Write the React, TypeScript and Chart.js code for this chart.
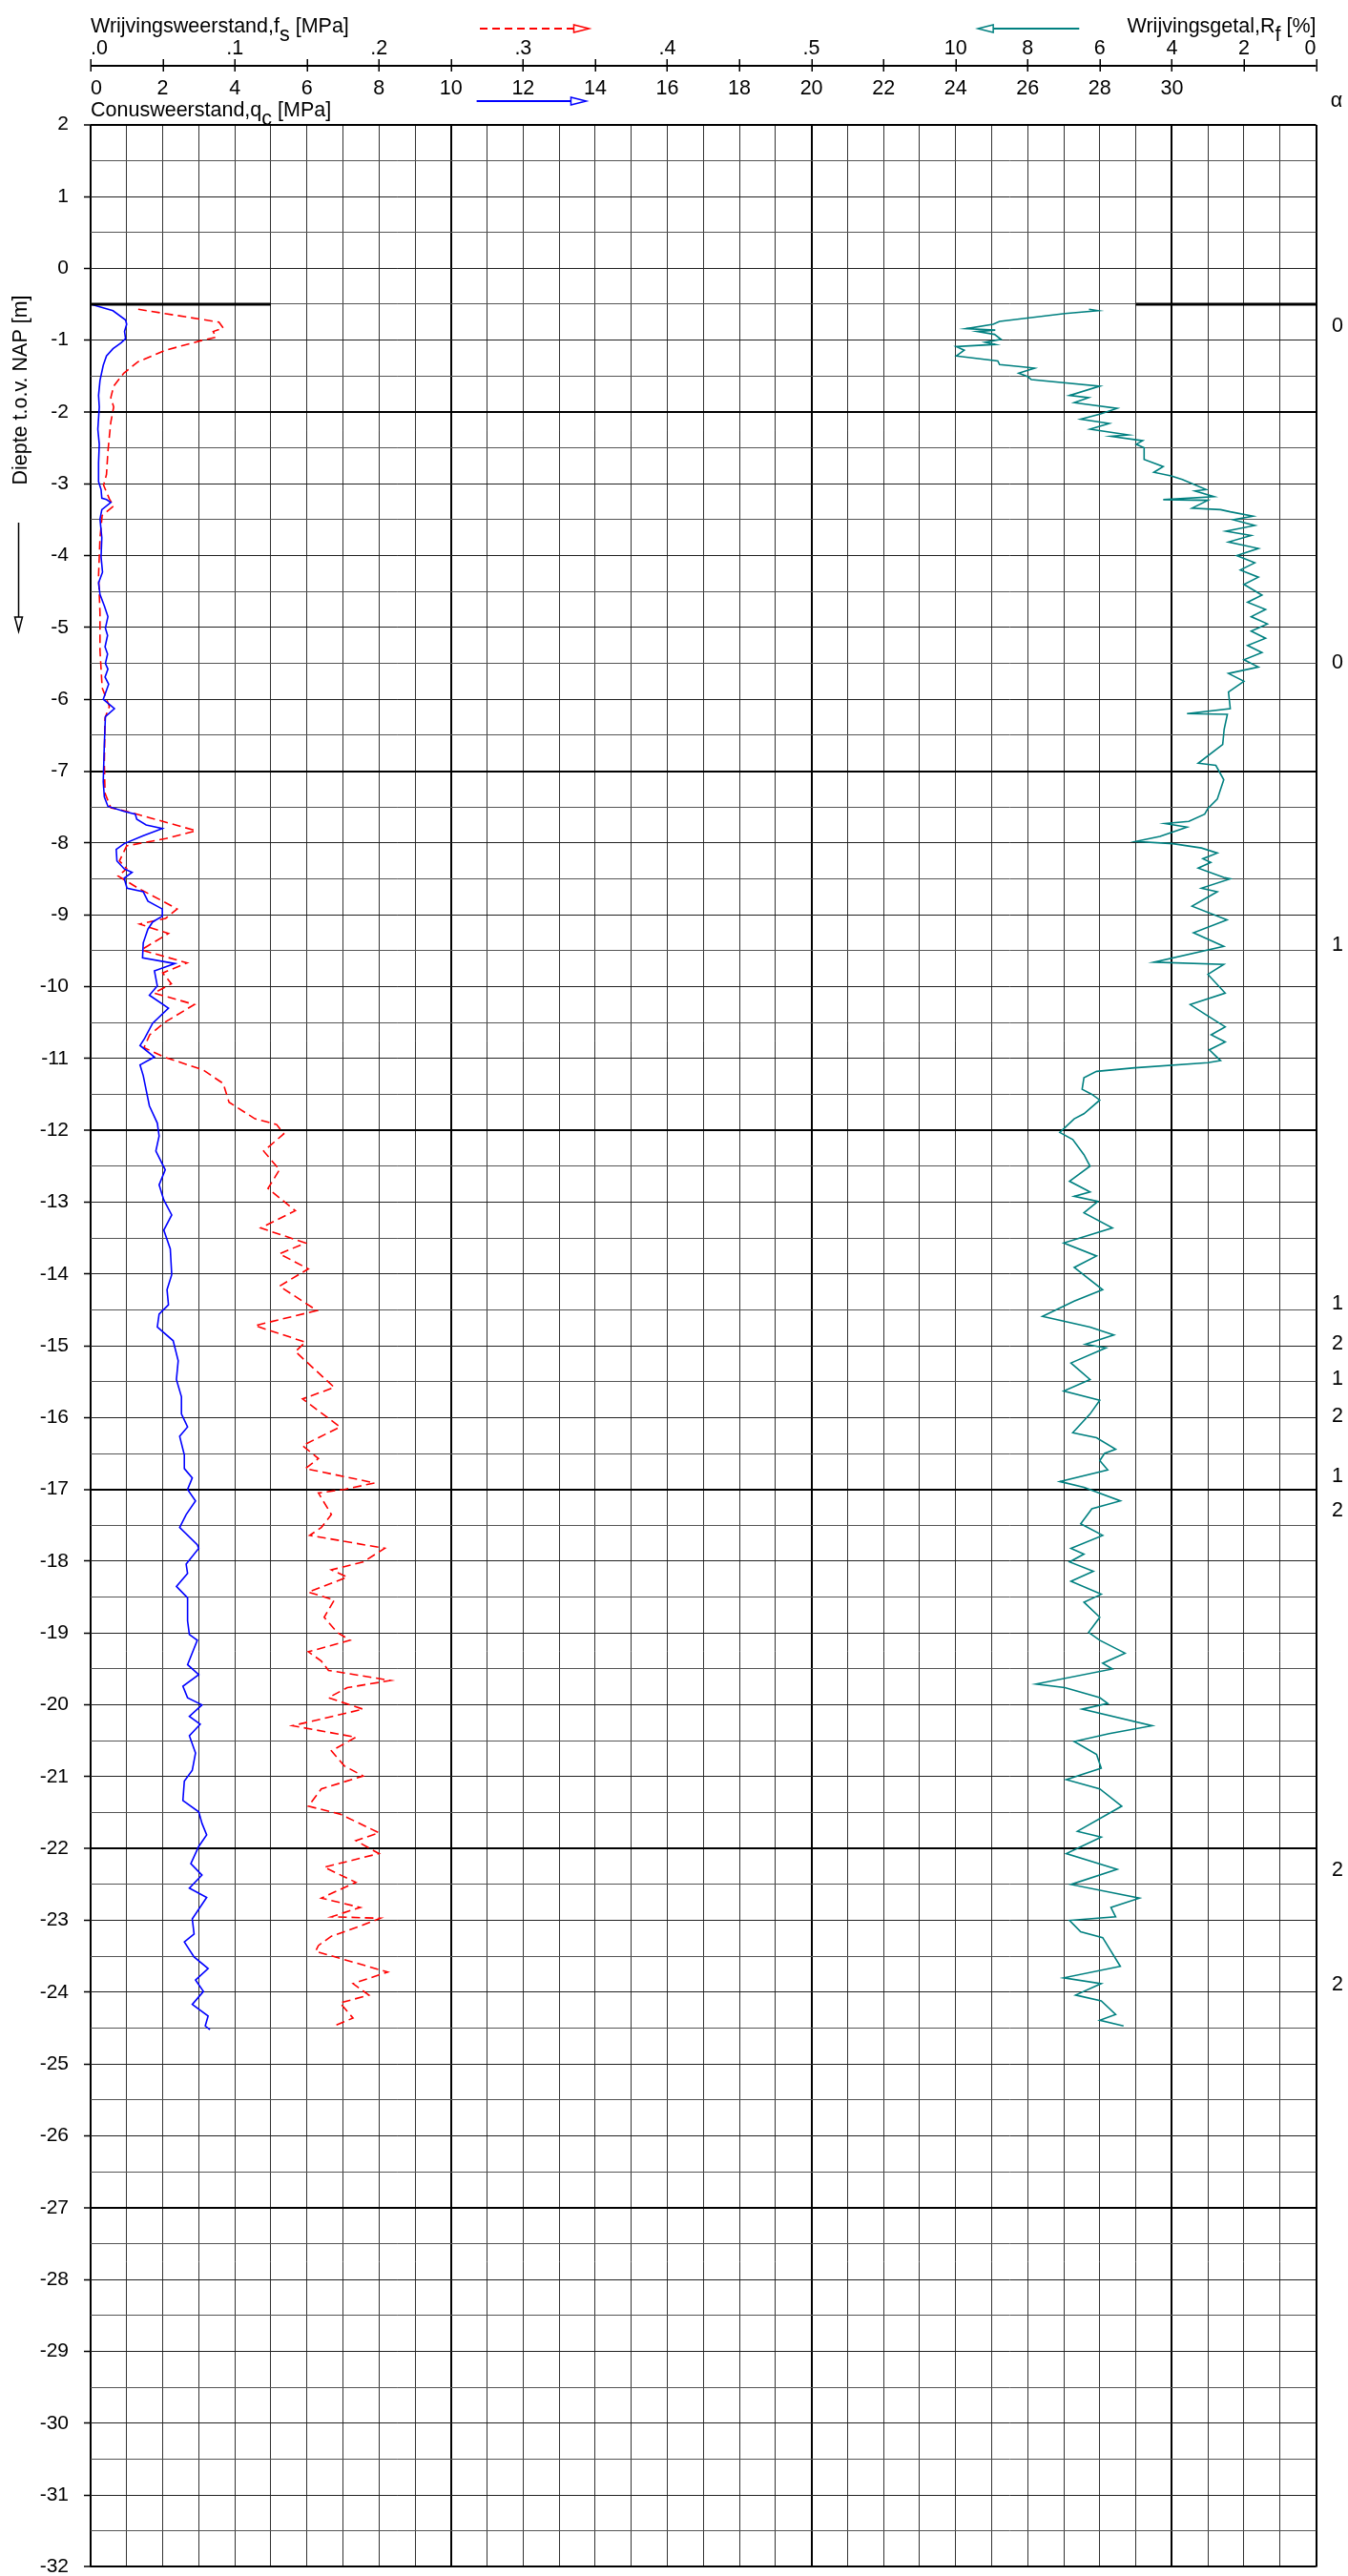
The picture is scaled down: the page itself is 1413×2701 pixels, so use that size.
import React, { useEffect, useRef } from 'react';
import { Chart, registerables } from 'chart.js';

Chart.register(...registerables);

const FONT = '"Liberation Sans", Arimo, Arial, sans-serif';

const groundLevel = -0.5;

const qcDepth = [-0.5, -0.59, -0.72, -0.78, -0.88, -0.98, -1.04, -1.12, -1.22, -1.35, -1.56, -1.77, -1.93, -2.24, -2.45, -2.71, -2.97, -3.08, -3.2, -3.22, -3.26, -3.36, -3.49, -3.75, -4.02, -4.23, -4.38, -4.54, -4.7, -4.85, -5.01, -5.11, -5.27, -5.37, -5.5, -5.58, -5.69, -5.79, -6.0, -6.13, -6.24, -6.63, -7.15, -7.36, -7.49, -7.56, -7.6, -7.67, -7.75, -7.8, -7.9, -8.01, -8.09, -8.25, -8.36, -8.41, -8.49, -8.63, -8.68, -8.81, -8.92, -9.02, -9.1, -9.2, -9.39, -9.6, -9.68, -9.78, -9.99, -10.12, -10.3, -10.51, -10.72, -10.82, -10.98, -11.09, -11.24, -11.66, -11.9, -12.08, -12.29, -12.55, -12.76, -12.97, -13.18, -13.39, -13.65, -14.01, -14.22, -14.43, -14.56, -14.74, -14.93, -15.21, -15.47, -15.71, -15.95, -16.13, -16.26, -16.52, -16.71, -16.84, -17.0, -17.16, -17.35, -17.53, -17.77, -17.82, -18.04, -18.17, -18.35, -18.51, -18.83, -19.02, -19.1, -19.44, -19.58, -19.74, -19.9, -20.0, -20.16, -20.27, -20.43, -20.67, -20.91, -21.06, -21.33, -21.49, -21.65, -21.81, -21.97, -22.21, -22.37, -22.55, -22.68, -22.98, -23.19, -23.3, -23.51, -23.67, -23.83, -23.99, -24.17, -24.33, -24.47, -24.52];
const qcValue = [0, 0.62, 0.97, 1.0, 0.94, 0.97, 0.84, 0.62, 0.44, 0.35, 0.26, 0.22, 0.24, 0.2, 0.24, 0.22, 0.22, 0.29, 0.31, 0.44, 0.56, 0.31, 0.26, 0.31, 0.29, 0.33, 0.22, 0.26, 0.38, 0.48, 0.41, 0.47, 0.4, 0.47, 0.41, 0.48, 0.4, 0.5, 0.35, 0.66, 0.41, 0.38, 0.35, 0.38, 0.48, 0.93, 1.24, 1.28, 1.54, 1.99, 1.46, 0.93, 0.71, 0.73, 0.93, 1.15, 0.93, 1.01, 1.46, 1.59, 1.99, 1.99, 1.72, 1.59, 1.46, 1.44, 2.34, 1.77, 1.85, 1.63, 2.16, 1.72, 1.5, 1.37, 1.77, 1.37, 1.46, 1.63, 1.85, 1.9, 1.81, 2.07, 1.9, 2.03, 2.25, 2.03, 2.21, 2.25, 2.12, 2.16, 1.9, 1.85, 2.29, 2.43, 2.38, 2.52, 2.52, 2.69, 2.47, 2.6, 2.6, 2.82, 2.69, 2.91, 2.65, 2.47, 2.96, 3.0, 2.65, 2.69, 2.38, 2.69, 2.69, 2.74, 2.96, 2.69, 3.0, 2.56, 2.69, 3.09, 2.74, 3.04, 2.74, 2.91, 2.82, 2.6, 2.56, 3.0, 3.09, 3.22, 3.0, 2.78, 3.09, 2.74, 3.22, 2.82, 2.87, 2.6, 2.87, 3.26, 2.91, 3.13, 2.82, 3.26, 3.18, 3.31];

const fsDepth = [-0.57, -0.75, -0.83, -0.88, -0.96, -1.01, -1.14, -1.3, -1.46, -1.64, -1.8, -1.93, -2.14, -2.34, -2.55, -2.87, -3.02, -3.21, -3.31, -3.44, -3.75, -4.28, -4.8, -5.32, -5.84, -6.1, -6.26, -6.89, -7.31, -7.51, -7.56, -7.65, -7.75, -7.83, -7.94, -8.04, -8.25, -8.36, -8.46, -8.63, -8.81, -8.92, -9.05, -9.13, -9.26, -9.49, -9.67, -9.81, -9.96, -10.09, -10.25, -10.49, -10.67, -10.85, -10.98, -11.16, -11.35, -11.61, -11.84, -11.92, -12.05, -12.29, -12.55, -12.81, -13.12, -13.36, -13.57, -13.72, -13.93, -14.17, -14.51, -14.72, -14.95, -15.08, -15.58, -15.74, -16.13, -16.39, -16.57, -16.71, -16.91, -17.0, -17.05, -17.35, -17.53, -17.64, -17.82, -18.01, -18.12, -18.22, -18.43, -18.54, -18.78, -18.99, -19.1, -19.26, -19.39, -19.52, -19.66, -19.76, -19.9, -20.06, -20.29, -20.45, -20.64, -20.85, -20.99, -21.17, -21.41, -21.52, -21.78, -21.89, -22.07, -22.26, -22.47, -22.69, -22.82, -22.95, -22.97, -23.08, -23.22, -23.35, -23.43, -23.72, -23.88, -24.04, -24.15, -24.36, -24.47];
const fsValue = [0.033, 0.089, 0.092, 0.085, 0.087, 0.076, 0.052, 0.033, 0.023, 0.016, 0.014, 0.016, 0.014, 0.013, 0.012, 0.011, 0.009, 0.013, 0.016, 0.008, 0.0065, 0.0055, 0.0065, 0.0065, 0.008, 0.013, 0.01, 0.0095, 0.01, 0.014, 0.025, 0.041, 0.059, 0.073, 0.052, 0.025, 0.02, 0.025, 0.019, 0.033, 0.05, 0.06, 0.052, 0.034, 0.054, 0.035, 0.067, 0.05, 0.056, 0.044, 0.072, 0.052, 0.041, 0.037, 0.051, 0.078, 0.092, 0.096, 0.114, 0.129, 0.134, 0.12, 0.131, 0.123, 0.142, 0.118, 0.149, 0.131, 0.151, 0.131, 0.157, 0.114, 0.149, 0.142, 0.169, 0.147, 0.173, 0.147, 0.158, 0.149, 0.197, 0.176, 0.158, 0.167, 0.16, 0.152, 0.204, 0.189, 0.167, 0.178, 0.151, 0.169, 0.162, 0.171, 0.18, 0.151, 0.16, 0.165, 0.208, 0.178, 0.165, 0.189, 0.14, 0.184, 0.167, 0.176, 0.189, 0.16, 0.151, 0.173, 0.2, 0.184, 0.2, 0.162, 0.184, 0.16, 0.187, 0.167, 0.201, 0.187, 0.167, 0.158, 0.156, 0.206, 0.182, 0.193, 0.173, 0.182, 0.169];

const rfDepth = [-0.57, -0.59, -0.63, -0.74, -0.78, -0.84, -0.86, -0.88, -0.92, -0.99, -1.03, -1.06, -1.09, -1.14, -1.22, -1.29, -1.34, -1.38, -1.39, -1.46, -1.51, -1.55, -1.64, -1.77, -1.8, -1.87, -1.95, -2.03, -2.1, -2.16, -2.24, -2.32, -2.34, -2.4, -2.45, -2.5, -2.66, -2.76, -2.84, -2.89, -2.94, -3.08, -3.1, -3.18, -3.22, -3.23, -3.34, -3.36, -3.39, -3.45, -3.5, -3.58, -3.66, -3.72, -3.81, -3.9, -4.0, -4.1, -4.2, -4.3, -4.4, -4.55, -4.65, -4.75, -4.85, -4.95, -5.05, -5.15, -5.25, -5.35, -5.45, -5.55, -5.64, -5.75, -5.9, -6.13, -6.2, -6.21, -6.42, -6.63, -6.89, -6.92, -7.12, -7.39, -7.52, -7.6, -7.7, -7.73, -7.78, -7.91, -7.98, -8.01, -8.07, -8.14, -8.22, -8.27, -8.35, -8.48, -8.5, -8.63, -8.68, -8.88, -9.07, -9.25, -9.44, -9.66, -9.69, -9.83, -10.09, -10.25, -10.38, -10.56, -10.67, -10.77, -10.88, -11.03, -11.06, -11.13, -11.18, -11.27, -11.43, -11.5, -11.58, -11.77, -11.84, -12.03, -12.13, -12.34, -12.5, -12.71, -12.86, -12.92, -12.99, -13.15, -13.36, -13.57, -13.75, -13.91, -14.22, -14.38, -14.59, -14.74, -14.85, -14.98, -15.03, -15.24, -15.47, -15.63, -15.76, -15.95, -16.21, -16.28, -16.44, -16.5, -16.6, -16.73, -16.89, -16.97, -17.16, -17.27, -17.48, -17.64, -17.82, -17.9, -18.01, -18.14, -18.28, -18.46, -18.57, -18.78, -18.99, -19.1, -19.28, -19.42, -19.5, -19.71, -19.76, -19.9, -19.98, -20.06, -20.29, -20.4, -20.51, -20.69, -20.88, -21.04, -21.17, -21.41, -21.76, -21.84, -22.07, -22.29, -22.5, -22.69, -22.82, -22.95, -23.0, -23.16, -23.24, -23.64, -23.8, -23.88, -24.04, -24.12, -24.31, -24.39, -24.47];
const rfValue = [6.3, 6.05, 6.97, 8.78, 8.96, 9.71, 8.9, 9.4, 8.92, 8.74, 9.18, 8.9, 9.98, 9.76, 9.98, 8.83, 8.78, 7.99, 7.81, 8.25, 7.99, 7.9, 6.0, 6.84, 6.31, 6.71, 5.52, 6.0, 6.53, 5.74, 6.27, 5.21, 5.69, 4.81, 4.99, 4.77, 4.77, 4.24, 4.5, 4.02, 3.71, 3.05, 3.36, 2.83, 4.24, 3.0, 3.44, 2.65, 2.38, 1.75, 2.3, 1.7, 2.5, 1.8, 2.43, 1.6, 2.2, 1.7, 2.1, 1.6, 2.0, 1.5, 1.9, 1.4, 1.8, 1.35, 1.8, 1.4, 1.9, 1.5, 2.0, 1.6, 2.43, 2.0, 2.43, 2.38, 3.58, 2.46, 2.55, 2.59, 3.27, 2.78, 2.56, 2.74, 3.0, 3.09, 3.53, 4.19, 3.58, 4.33, 5.0, 3.97, 3.18, 2.74, 3.14, 2.92, 3.27, 2.56, 2.38, 3.18, 2.74, 3.44, 2.47, 3.4, 2.56, 4.5, 2.56, 3.0, 2.52, 3.49, 3.09, 2.52, 2.91, 2.52, 2.96, 2.65, 3.0, 5.03, 6.09, 6.44, 6.49, 6.22, 6.0, 6.44, 6.71, 7.11, 6.75, 6.44, 6.27, 6.84, 6.27, 6.71, 6.05, 6.44, 5.65, 7.0, 6.09, 6.71, 5.92, 6.71, 7.59, 6.27, 5.61, 6.4, 5.83, 6.8, 6.27, 7.0, 6.0, 6.27, 6.75, 6.09, 5.56, 5.87, 6.0, 5.78, 7.11, 6.44, 5.43, 6.22, 6.53, 5.92, 6.8, 6.44, 6.84, 6.18, 6.8, 5.96, 6.44, 6.0, 6.31, 6.0, 5.3, 5.92, 5.65, 7.77, 6.97, 6.0, 5.78, 6.49, 4.55, 5.74, 6.71, 6.09, 5.96, 6.93, 6.0, 5.39, 6.62, 5.96, 6.93, 5.52, 6.8, 4.9, 5.69, 5.56, 6.84, 6.53, 5.92, 5.43, 7.0, 5.96, 6.67, 5.96, 5.56, 6.0, 5.34];

// alpha classification column
const alphaDepth = [-0.8, -5.5, -9.43, -14.41, -14.98, -15.46, -15.98, -16.82, -17.3, -22.3, -23.9];
const alphaLabel = ['0', '0', '1', '1', '2', '1', '2', '1', '2', '2', '2'];

// axis tick labels
const qcTickValues = [0, 2, 4, 6, 8, 10, 12, 14, 16, 18, 20, 22, 24, 26, 28, 30];
const fsTickValues = [0, 0.1, 0.2, 0.3, 0.4, 0.5];
const fsTickLabels = ['.0', '.1', '.2', '.3', '.4', '.5'];
const rfTickValues = [10, 8, 6, 4, 2, 0];

const toPoints = (d: number[], v: number[]) => d.map((y, i) => ({ x: v[i], y }));

export default function App() {
  const ref = useRef<HTMLCanvasElement>(null);

  useEffect(() => {
    const canvas = ref.current;
    if (!canvas) return;

    const decor = {
      id: 'decor',
      afterDraw(chart: any) {
        const { ctx } = chart;
        const x = chart.scales.x;
        const y = chart.scales.y;
        const xfs = chart.scales.xfs;
        const xrf = chart.scales.xrf;
        ctx.save();
        ctx.fillStyle = '#000';
        ctx.strokeStyle = '#000';
        ctx.font = `21.5px ${FONT}`;

        // ground level lines
        const gy = y.getPixelForValue(groundLevel);
        ctx.lineWidth = 3;
        ctx.beginPath();
        ctx.moveTo(x.getPixelForValue(0), gy);
        ctx.lineTo(x.getPixelForValue(5), gy);
        ctx.moveTo(x.getPixelForValue(29), gy);
        ctx.lineTo(x.right, gy);
        ctx.stroke();

        // top scale line
        const ay = 69;
        ctx.lineWidth = 2;
        ctx.beginPath();
        ctx.moveTo(x.left, ay);
        ctx.lineTo(x.right, ay);
        ctx.stroke();
        ctx.lineWidth = 1.5;
        ctx.beginPath();
        for (let v = 0; v <= 34; v += 2) {
          const px = Math.round(x.getPixelForValue(v)) + 0.25;
          ctx.moveTo(px, ay - 7);
          ctx.lineTo(px, ay + 6);
        }
        ctx.stroke();

        ctx.textBaseline = 'alphabetic';
        fsTickValues.forEach((v, i) => {
          ctx.textAlign = i === 0 ? 'left' : 'center';
          ctx.fillText(fsTickLabels[i], xfs.getPixelForValue(v), 57);
        });
        rfTickValues.forEach((v, i) => {
          ctx.textAlign = i === rfTickValues.length - 1 ? 'right' : 'center';
          ctx.fillText(String(v), xrf.getPixelForValue(v), 57);
        });
        qcTickValues.forEach((v, i) => {
          ctx.textAlign = i === 0 ? 'left' : 'center';
          ctx.fillText(String(v), x.getPixelForValue(v), 99);
        });

        const drawSub = (parts: [string, string, string], px: number, base: number, align: 'left' | 'right') => {
          const w0 = ctx.measureText(parts[0]).width;
          const w1 = ctx.measureText(parts[1]).width;
          const w2 = ctx.measureText(parts[2]).width;
          const total = w0 + w1 + w2;
          const sx = align === 'left' ? px : px - total;
          ctx.textAlign = 'left';
          ctx.fillText(parts[0], sx, base);
          ctx.fillText(parts[1], sx + w0, base + 9);
          ctx.fillText(parts[2], sx + w0 + w1, base);
        };
        drawSub(['Wrijvingsweerstand,f', 's', ' [MPa]'], x.left, 34, 'left');
        drawSub(['Conusweerstand,q', 'c', ' [MPa]'], x.left, 122, 'left');
        drawSub(['Wrijvingsgetal,R', 'f', ' [%]'], x.right, 34, 'right');

        const arrow = (x1: number, x2: number, yy: number, color: string, dash: number[]) => {
          const dir = x2 > x1 ? 1 : -1;
          const hl = 16;
          const hw = 4;
          ctx.strokeStyle = color;
          ctx.lineWidth = 2;
          ctx.setLineDash(dash);
          ctx.beginPath();
          ctx.moveTo(x1, yy);
          ctx.lineTo(x2 - dir * hl, yy);
          ctx.stroke();
          ctx.setLineDash([]);
          ctx.lineWidth = 1.5;
          ctx.beginPath();
          ctx.moveTo(x2, yy);
          ctx.lineTo(x2 - dir * hl, yy - hw);
          ctx.lineTo(x2 - dir * hl, yy + hw);
          ctx.closePath();
          ctx.stroke();
        };
        arrow(x.getPixelForValue(10.8), x.getPixelForValue(13.83), 30, '#ff0000', [8, 5]);
        arrow(x.getPixelForValue(10.71), x.getPixelForValue(13.75), 106, '#0000ff', []);
        arrow(x.getPixelForValue(27.43), x.getPixelForValue(24.62), 30, '#008080', []);

        ctx.fillStyle = '#000';
        ctx.textAlign = 'center';
        ctx.fillText('\u03b1', 1401, 112);
        ctx.textBaseline = 'middle';
        alphaDepth.forEach((d, i) => {
          ctx.fillText(alphaLabel[i], 1402, y.getPixelForValue(d));
        });

        ctx.save();
        ctx.translate(28, 409);
        ctx.rotate(-Math.PI / 2);
        ctx.textAlign = 'center';
        ctx.textBaseline = 'alphabetic';
        ctx.fillText('Diepte t.o.v. NAP [m]', 0, 0);
        ctx.restore();
        ctx.strokeStyle = '#000';
        ctx.lineWidth = 1.5;
        ctx.beginPath();
        ctx.moveTo(19.5, 548);
        ctx.lineTo(19.5, 647);
        ctx.stroke();
        ctx.beginPath();
        ctx.moveTo(19.5, 662);
        ctx.lineTo(15.5, 647);
        ctx.lineTo(23.5, 647);
        ctx.closePath();
        ctx.stroke();

        ctx.restore();
      },
    };

    const chart = new Chart(canvas, {
      type: 'scatter',
      data: {
        datasets: [
          { label: 'qc', data: toPoints(qcDepth, qcValue), xAxisID: 'x', showLine: true, borderColor: '#0000ff', borderWidth: 1.6, pointRadius: 0, tension: 0 },
          { label: 'fs', data: toPoints(fsDepth, fsValue), xAxisID: 'xfs', showLine: true, borderColor: '#ff0000', borderWidth: 1.6, borderDash: [9, 5], pointRadius: 0, tension: 0 },
          { label: 'Rf', data: toPoints(rfDepth, rfValue), xAxisID: 'xrf', showLine: true, borderColor: '#008080', borderWidth: 1.6, pointRadius: 0, tension: 0 },
        ],
      },
      options: {
        responsive: false,
        maintainAspectRatio: false,
        devicePixelRatio: 1,
        animation: false,
        events: [],
        layout: { padding: { left: 0, right: 1413 - 1379.5, top: 130.7, bottom: 2720 - 2702.5 } },
        plugins: { legend: { display: false }, tooltip: { enabled: false }, title: { display: false } },
        scales: {
          x: {
            type: 'linear',
            position: 'top',
            min: 0,
            max: 34,
            afterFit: (s: any) => { s.height = 0; },
            ticks: { display: false, stepSize: 1, autoSkip: false },
            border: { display: false },
            grid: {
              drawTicks: false,
              color: (c: any) => {
                const v = c.tick ? c.tick.value : 0;
                return v % 10 === 0 || v === 34 ? '#000' : '#333';
              },
              lineWidth: (c: any) => {
                const v = c.tick ? c.tick.value : 0;
                return v % 10 === 0 || v === 34 ? 2 : 1;
              },
            },
          },
          xfs: { type: 'linear', display: false, min: 0, max: 0.85 },
          xrf: { type: 'linear', display: false, min: 0, max: 34, reverse: true },
          y: {
            type: 'linear',
            position: 'left',
            min: -32,
            max: 2,
            afterFit: (s: any) => { s.width = 95; },
            border: { display: false },
            ticks: {
              stepSize: 0.5,
              autoSkip: false,
              padding: 16,
              color: '#000',
              font: { family: FONT, size: 21 },
              callback: (v: any) => (Number.isInteger(v) ? String(v) : ''),
            },
            grid: {
              tickLength: 7,
              tickWidth: 1.5,
              tickColor: (c: any) => (c.tick && Number.isInteger(c.tick.value) ? '#000' : 'rgba(0,0,0,0)'),
              color: (c: any) => {
                const v = c.tick ? c.tick.value : 0;
                if (v === 2 || (v + 2) % 5 === 0) return '#000';
                return Number.isInteger(v) ? '#222' : '#555';
              },
              lineWidth: (c: any) => {
                const v = c.tick ? c.tick.value : 0;
                return v === 2 || (v + 2) % 5 === 0 ? 2 : 1;
              },
            },
          },
        },
      },
      plugins: [decor],
    } as any);

    return () => chart.destroy();
  }, []);

  return (
    <div style={{ position: 'fixed', left: 0, top: 0, width: 1413, height: 2701, overflow: 'hidden', background: '#fff' }}>
      <canvas ref={ref} width={1413} height={2720} style={{ display: 'block', width: 1413, height: 2720 }} />
    </div>
  );
}
